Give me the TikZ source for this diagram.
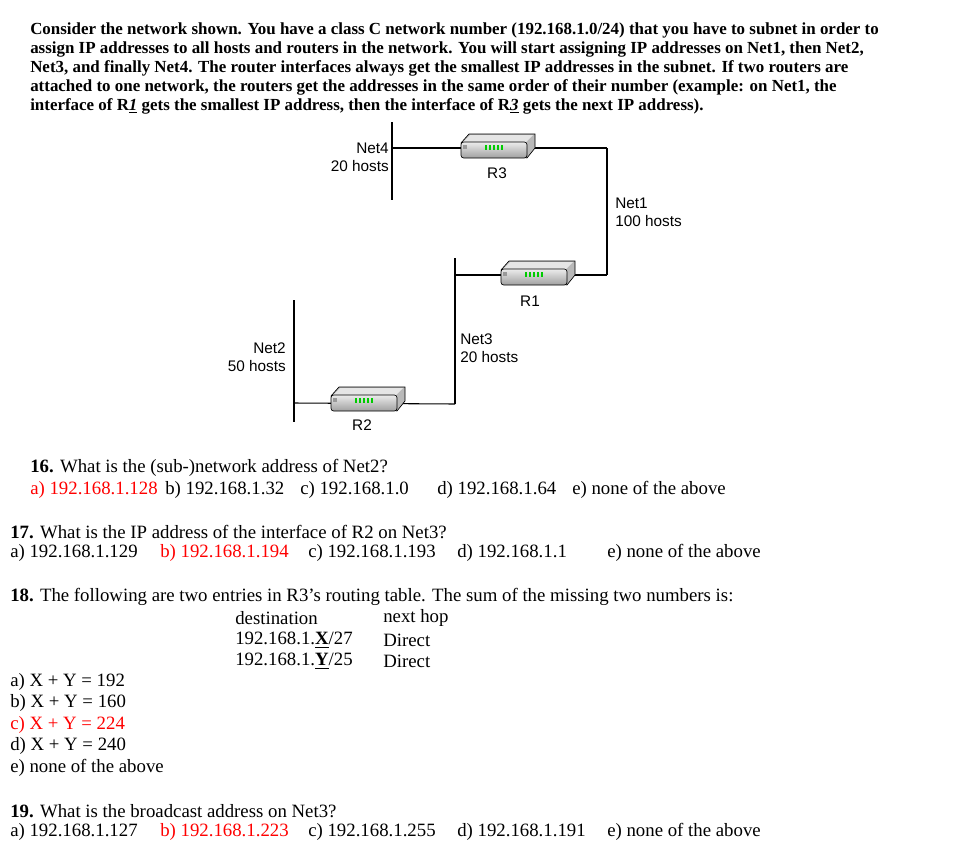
\documentclass[tikz,border=0pt]{standalone}
\usepackage{fontspec}
\setmainfont{Liberation Serif}
\newfontfamily\arialf{Liberation Sans}
\begin{document}
\begin{tikzpicture}[x=0.75pt,y=-0.75pt,
  hdr/.style={anchor=west,inner sep=0,font=\fontsize{12.7}{15}\selectfont\bfseries},
  txt/.style={anchor=west,inner sep=0,font=\fontsize{14.1}{16}\selectfont},
  ans/.style={txt,text=red},
  lab/.style={inner sep=0,font=\arialf\fontsize{11.5}{13.5}\selectfont,align=left},
  net/.style={line width=0.8pt},
  rt/.style={inner sep=0,minimum width=70*0.75pt,minimum height=20*0.75pt}]
\useasboundingbox (0,0) rectangle (962,856);
\fill[white] (0,0) rectangle (962,856);
% header
\node[hdr] (h1) at (30,30) {Consider the network shown. You have a class C network number (192.168.1.0/24) that you have to subnet in order to};
\node[hdr] (h2) at (30,49) {assign IP addresses to all hosts and routers in the network. You will start assigning IP addresses on Net1, then Net2,};
\node[hdr] (h3) at (30,68) {Net3, and finally Net4. The router interfaces always get the smallest IP addresses in the subnet. If two routers are};
\node[hdr] (h4) at (30,87) {attached to one network, the routers get the addresses in the same order of their number (example: on Net1, the};
\node[hdr] (h5) at (30,106) {interface of R\underline{\itshape 1} gets the smallest IP address, then the interface of R\underline{\itshape 3} gets the next IP address).};
% routers
\newcommand{\routerdraw}[2]{%
  \begin{scope}[shift={(#1,#2)}]
   \fill[gray!55,draw=black,line width=0.5pt] (-36,-5) -- (-28,-14) -- (38,-14) -- (38,0) -- (30,10) -- cycle;
   \fill[gray!20] (-34,-6) -- (-27,-13) -- (36,-13) -- (29,-6) -- cycle;
   \shade[top color=gray!15,bottom color=gray!75,draw=black,line width=0.5pt,rounded corners=2pt] (-36,-6) rectangle (30,10);
   \fill[gray!80] (-34,-3) rectangle (-30,1);
   \foreach \k in {0,...,4}{\fill[green!80!black] (-12+\k*4,-3) rectangle (-10.5+\k*4,2);}
  \end{scope}}
% Net4 / R3
\coordinate (n4t) at (392,122); \coordinate (n4b) at (392,200);
\draw[net] (n4t) -- (n4b);
\coordinate (n1t) at (607,148); \coordinate (n1b) at (607,275);
\draw[net] (392,148) -- (n1t);
\draw[net] (n1t) -- (n1b);
\routerdraw{497}{148}
\node[rt] (R3) at (497,148) {};
\node[lab] (R3l) at (497,173) {R3};
% R1
\coordinate (n3t) at (455,258); \coordinate (n3b) at (455,404);
\draw[net] (n3t) -- (n3b);
\draw[net] (455,275) -- (n1b);
\routerdraw{537}{275}
\node[rt] (R1) at (537,275) {};
\node[lab] (R1l) at (530,301) {R1};
% R2
\coordinate (n2t) at (294,300); \coordinate (n2b) at (294,422);
\draw[net] (n2t) -- (n2b);
\draw[net] (294,403) -- (n3b);
\routerdraw{367}{401}
\node[rt] (R2) at (367,401) {};
\node[lab] (R2l) at (362,425) {R2};
% net labels
\node[lab,anchor=north east,align=right] (n4l) at (389,143) {Net4\\20 hosts};
\node[lab,anchor=north west] (n1l) at (615,198) {Net1\\100 hosts};
\node[lab,anchor=north west] (n3l) at (460,334) {Net3\\20 hosts};
\node[lab,anchor=north east,align=right] (n2l) at (286,343) {Net2\\50 hosts};
% Q16
\node[txt] (q16) at (30,468) {\textbf{16.} What is the (sub-)network address of Net2?};
\node[ans] (q16a) at (30,490) {a) 192.168.1.128};
\node[txt] (q16b) at (165,490) {b) 192.168.1.32};
\node[txt] (q16c) at (300,490) {c) 192.168.1.0};
\node[txt] (q16d) at (437,490) {d) 192.168.1.64};
\node[txt] (q16e) at (572,490) {e) none of the above};
% Q17
\node[txt] (q17) at (10,532) {\textbf{17.} What is the IP address of the interface of R2 on Net3?};
\node[txt] (q17a) at (10,553) {a) 192.168.1.129};
\node[ans] (q17b) at (160,553) {b) 192.168.1.194};
\node[txt] (q17c) at (308,553) {c) 192.168.1.193};
\node[txt] (q17d) at (457,553) {d) 192.168.1.1};
\node[txt] (q17e) at (607,553) {e) none of the above};
% Q18
\node[txt] (q18) at (10,597) {\textbf{18.} The following are two entries in R3’s routing table. The sum of the missing two numbers is:};
\node[txt] (t1) at (235,618) {destination};
\node[txt] (t2) at (383,618) {next hop};
\node[txt] (t3) at (235,640) {192.168.1.\underline{\textbf{X}}/27};
\node[txt] (t4) at (383,640) {Direct};
\node[txt] (t5) at (235,661) {192.168.1.\underline{\textbf{Y}}/25};
\node[txt] (t6) at (383,661) {Direct};
\node[txt] (q18a) at (10,682) {a) X + Y = 192};
\node[txt] (q18b) at (10,703) {b) X + Y = 160};
\node[ans] (q18c) at (10,725) {c) X + Y = 224};
\node[txt] (q18d) at (10,746) {d) X + Y = 240};
\node[txt] (q18e) at (10,768) {e) none of the above};
% Q19
\node[txt] (q19) at (10,811) {\textbf{19.} What is the broadcast address on Net3?};
\node[txt] (q19a) at (10,832) {a) 192.168.1.127};
\node[ans] (q19b) at (160,832) {b) 192.168.1.223};
\node[txt] (q19c) at (308,832) {c) 192.168.1.255};
\node[txt] (q19d) at (457,832) {d) 192.168.1.191};
\node[txt] (q19e) at (607,832) {e) none of the above};
\end{tikzpicture}
\end{document}
